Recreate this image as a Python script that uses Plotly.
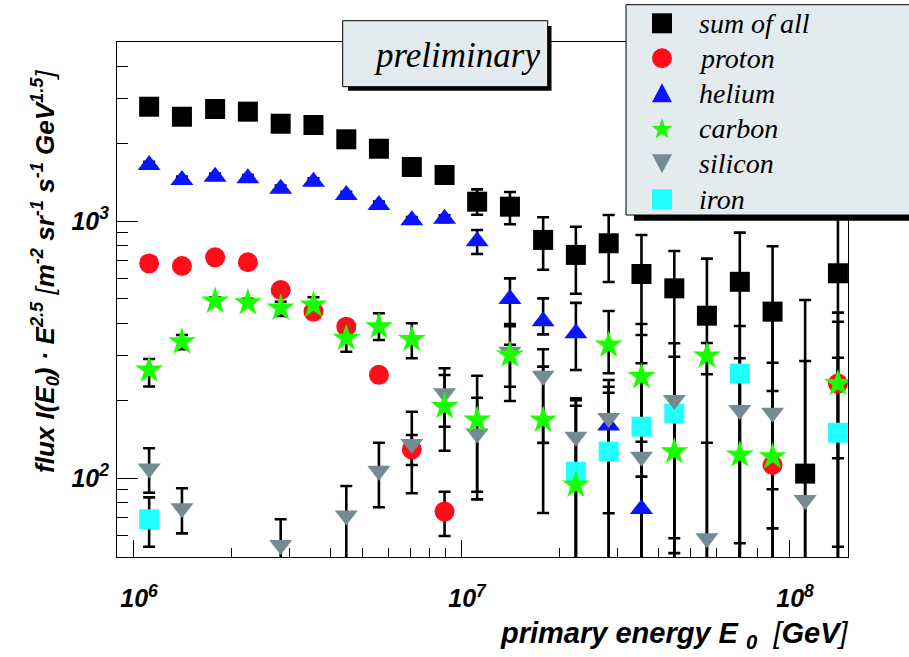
import math
import plotly.graph_objects as go

# ---------------- data ----------------
energy = [1.12e6, 1.41e6, 1.78e6, 2.24e6, 2.82e6, 3.55e6, 4.47e6, 5.62e6, 7.08e6, 8.91e6,
          1.12e7, 1.41e7, 1.78e7, 2.24e7, 2.82e7, 3.55e7, 4.47e7, 5.62e7, 7.08e7, 8.91e7,
          1.12e8, 1.41e8]
N = None

sum_all = [2784, 2545, 2728, 2663, 2391, 2363, 2079, 1911, 1622, 1510,
           1189, 1137, 844, 738, 819, 622, 547, 428, 580, 444, 104, 626]
sum_hi = [2890, 2640, 2830, 2760, 2480, 2450, 2160, 1990, 1690, 1580,
          1328, 1297, 1034, 950, 1055, 882, 764, 714, 901, 797, 493, 6000]
sum_lo = [2680, 2450, 2630, 2570, 2300, 2280, 2000, 1840, 1555, 1445,
          1058, 971, 646, 521, 579, 20, 20, 20, 20, 20, 20, 20]

proton = [684, 668, 722, 691, 539, 444, 388, 252, 129.3, 74,
          N, N, N, N, N, N, N, N, N, 112.3, N, 233]
proton_hi = [705, 690, 745, 712, 556, 458, 400, 262, 147, 88.4,
             N, N, N, N, N, N, N, N, N, 218, N, 440]
proton_lo = [663, 648, 700, 670, 522, 430, 376, 243, 112.3, 59.5,
             N, N, N, N, N, N, N, N, N, 63.7, N, 54]

helium = [1652, 1444, 1487, 1466, 1336, 1422, 1262, 1154, 1006, 1021,
          834, 497, 407, 366, 160, 75.8, N, N, N, N, N, N]
helium_hi = [1700, 1490, 1530, 1510, 1375, 1465, 1300, 1190, 1036, 1052,
             923, 598, 500, 480, 226.6, 101.2, N, N, N, N, N, N]
helium_lo = [1605, 1400, 1445, 1422, 1297, 1380, 1225, 1120, 976, 990,
             744, 397, 362, 263, 72.9, 20, N, N, N, N, N, N]

carbon = [263, 339, 488, 481, 458, 471, 350, 388, 346, 189.5,
          168, 301, 168, 93.9, 329, 248, 126.6, 298, 122.9, 121, N, 233]
carbon_hi = [290.4, 360.1, 505, 498, 485.3, 504.9, 387.9, 437.3, 399.9, 251.6,
             205.3, 330, 271.2, 191.1, 446.3, 360.1, 207.2, 335, 292.3, 281, N, 405.7]
carbon_lo = [227, 316.8, 470, 464, 426.9, 437.3, 310.1, 344.4, 292.3, 158.3,
             88.4, 199.3, 73.1, 20, 255.5, 138.4, 20, 253.2, 20, 90.4, N, 119.3]

silicon = [109, 76.2, N, N, 54.9, N, 71.4, 106.8, 135.6, 213.6,
           149, 310, 250, 144.8, 171, 121, 201, 58.3, 184, 179.5, 82.1, N]
silicon_hi = [130.5, 91.2, N, N, 69.1, N, 93.1, 137.2, 181.1, 267.3,
              250, 390, 316.8, 201, 214.7, 397.4, 296.5, 137.2, 390.5, 412, 285.3, N]
silicon_lo = [87.6, 60.9, N, N, 20, N, 20, 76.9, 87.2, 127.7,
              82.6, 226.6, 137, 20, 20, 20, 51, 20, 20, 20, 20, N]

iron = [69.1, N, N, N, N, N, N, N, N, N,
        N, N, N, 105.8, 126.6, 158.3, 178, N, 255, N, N, 150]
iron_hi = [84.1, N, N, N, N, N, N, N, N, N,
           N, N, N, 204.2, 240.6, 279.5, 334.3, N, 265, N, N, 293.8]
iron_lo = [54.0, N, N, N, N, N, N, N, N, N,
           N, N, N, 20, 20, 20, 58.3, N, 55.7, N, N, 20]

series_names = ["sum of all", "proton", "helium", "carbon", "silicon", "iron"]
x_tick_vals = [1e6, 1e7, 1e8]
x_tick_text = ["10<sup>6</sup>", "10<sup>7</sup>", "10<sup>8</sup>"]
y_tick_vals = [1e2, 1e3]
y_tick_text = ["10<sup>2</sup>", "10<sup>3</sup>"]

# ---------------- styling ----------------
W, H = 909, 657
L, R, T, B = 117, 61, 42, 100
PW, PH = W - L - R, H - T - B


def px(xp):
    return (xp - L) / PW


def py(yp):
    return (H - B - yp) / PH


def errs(vals, hi, lo):
    plus, minus = [], []
    for v, h, l in zip(vals, hi, lo):
        if v is None:
            plus.append(None)
            minus.append(None)
        else:
            plus.append(h - v)
            minus.append(v - l)
    return plus, minus


styles = {
    "sum of all": dict(symbol="square", color="black", size=20),
    "proton": dict(symbol="circle", color="#ff0d1a", size=20),
    "helium": dict(symbol="triangle-up", color="#0a14ff", size=20),
    "carbon": dict(symbol="star", color="#1aff00", size=21),
    "silicon": dict(symbol="triangle-down", color="#738c94", size=20),
    "iron": dict(symbol="square", color="#22ffff", size=20),
}
data = {
    "sum of all": (sum_all, sum_hi, sum_lo),
    "proton": (proton, proton_hi, proton_lo),
    "helium": (helium, helium_hi, helium_lo),
    "carbon": (carbon, carbon_hi, carbon_lo),
    "silicon": (silicon, silicon_hi, silicon_lo),
    "iron": (iron, iron_hi, iron_lo),
}

fig = go.Figure()

# error bars first (markers invisible), then the markers on top
for name in series_names:
    v, hi, lo = data[name]
    plus, minus = errs(v, hi, lo)
    fig.add_trace(go.Scatter(
        x=energy, y=v, mode="markers", showlegend=False, hoverinfo="skip",
        marker=dict(size=4, opacity=0),
        error_y=dict(type="data", array=plus, arrayminus=minus, symmetric=False,
                     color="black", thickness=2.6, width=6),
    ))

for name in ["sum of all", "proton", "helium", "iron", "silicon", "carbon"]:
    v = data[name][0]
    st = styles[name]
    fig.add_trace(go.Scatter(
        x=energy, y=v, mode="markers", name=name, showlegend=False,
        marker=dict(symbol=st["symbol"], color=st["color"], size=st["size"],
                    line=dict(width=0)),
    ))

axis_common = dict(
    type="log", showgrid=False, zeroline=False, showline=True, linecolor="black",
    linewidth=1, mirror=True, ticks="inside", tickcolor="black", tickwidth=1,
    tickfont=dict(family="Liberation Sans", size=25, color="black",
                  weight="bold", style="italic"),
)

fig.update_layout(
    width=W, height=H,
    margin=dict(l=L, r=R, t=T, b=B),
    paper_bgcolor="white", plot_bgcolor="white",
    xaxis=dict(axis_common, range=[5.95122, 8.17988], tickvals=x_tick_vals,
               ticktext=x_tick_text, ticklen=17, ticklabelstandoff=19,
               ticklabelshift=6,
               minor=dict(ticks="inside", ticklen=9, tickcolor="black", tickwidth=1,
                          tickvals=[2e6, 3e6, 4e6, 5e6, 6e6, 7e6, 8e6, 9e6,
                                    2e7, 3e7, 4e7, 5e7, 6e7, 7e7, 8e7, 9e7])),
    yaxis=dict(axis_common, range=[1.6926, 3.6965], tickvals=y_tick_vals,
               ticktext=y_tick_text, ticklen=21, ticklabelstandoff=2,
               minor=dict(ticks="inside", ticklen=11, tickcolor="black", tickwidth=1,
                          tickvals=[60, 70, 80, 90, 200, 300, 400, 500, 600, 700,
                                    800, 900, 2000, 3000, 4000])),
    showlegend=False,
)

shapes = []
annotations = []

# "preliminary" box with shadow
shapes.append(dict(type="rect", xref="paper", yref="paper", layer="above",
                   x0=px(348), x1=px(551.5), y0=py(26), y1=py(90.7),
                   fillcolor="black", line=dict(width=0)))
shapes.append(dict(type="rect", xref="paper", yref="paper", layer="above",
                   x0=px(342.7), x1=px(547.7), y0=py(20.7), y1=py(86.7),
                   fillcolor="#e4ebee", line=dict(color="black", width=1)))
annotations.append(dict(xref="paper", yref="paper", x=px(456), y=py(55),
                        xanchor="center", yanchor="middle",
                        text="preliminary", showarrow=False,
                        font=dict(family="Liberation Serif", size=35, color="black",
                                  style="italic")))

# legend box with shadow (extends past the right edge like the original)
shapes.append(dict(type="rect", xref="paper", yref="paper", layer="above",
                   x0=px(634), x1=px(930), y0=py(12), y1=py(220.7),
                   fillcolor="black", line=dict(width=0)))
shapes.append(dict(type="rect", xref="paper", yref="paper", layer="above",
                   x0=px(626), x1=px(925), y0=py(4.7), y1=py(215),
                   fillcolor="#e4ebee", line=dict(color="black", width=1)))

leg_y = [23.3, 58.3, 93.3, 128.3, 163.3, 199.3]
gx = 662


def path_from(points):
    return "M " + " L ".join(f"{px(a):.5f},{py(b):.5f}" for a, b in points) + " Z"


for name, cy in zip(series_names, leg_y):
    st = styles[name]
    c = st["color"]
    if st["symbol"] == "square":
        shapes.append(dict(type="rect", xref="paper", yref="paper", layer="above",
                           x0=px(gx - 10), x1=px(gx + 10), y0=py(cy - 10), y1=py(cy + 10),
                           fillcolor=c, line=dict(width=0)))
    elif st["symbol"] == "circle":
        shapes.append(dict(type="circle", xref="paper", yref="paper", layer="above",
                           x0=px(gx - 10), x1=px(gx + 10), y0=py(cy - 10), y1=py(cy + 10),
                           fillcolor=c, line=dict(width=0)))
    elif st["symbol"] == "triangle-up":
        pts = [(gx - 10, cy + 9), (gx + 10, cy + 9), (gx, cy - 10)]
        shapes.append(dict(type="path", xref="paper", yref="paper", layer="above",
                           path=path_from(pts), fillcolor=c, line=dict(width=0)))
    elif st["symbol"] == "triangle-down":
        pts = [(gx - 10, cy - 9), (gx + 10, cy - 9), (gx, cy + 10)]
        shapes.append(dict(type="path", xref="paper", yref="paper", layer="above",
                           path=path_from(pts), fillcolor=c, line=dict(width=0)))
    elif st["symbol"] == "star":
        pts = []
        for k in range(10):
            r = 11 if k % 2 == 0 else 4.4
            ang = -math.pi / 2 + k * math.pi / 5
            pts.append((gx + r * math.cos(ang), cy + 1 + r * math.sin(ang)))
        shapes.append(dict(type="path", xref="paper", yref="paper", layer="above",
                           path=path_from(pts), fillcolor=c, line=dict(width=0)))
    annotations.append(dict(xref="paper", yref="paper", x=px(697), y=py(cy),
                            xanchor="left", yanchor="middle", text=name,
                            showarrow=False,
                            font=dict(family="Liberation Serif", size=28,
                                      color="black", style="italic")))

# axis titles
annotations.append(dict(
    xref="paper", yref="paper", x=px(45), y=py(272), textangle=-90,
    xanchor="center", yanchor="middle", showarrow=False,
    text="flux I(E<sub>0</sub>) · E<sup>2.5</sup> <span style='font-weight:normal'>[</span>"
         "m<sup>-2</sup> sr<sup>-1</sup> s<sup>-1</sup> GeV<sup>1.5</sup>"
         "<span style='font-weight:normal'>]</span>",
    font=dict(family="Liberation Sans", size=26, color="black", weight="bold",
              style="italic")))
annotations.append(dict(
    xref="paper", yref="paper", x=px(851), y=py(635), xanchor="right",
    yanchor="middle", showarrow=False,
    text="primary energy E <sub>0</sub>  <span style='font-weight:normal'>[</span>GeV"
         "<span style='font-weight:normal'>]</span>",
    font=dict(family="Liberation Sans", size=29, color="black", weight="bold",
              style="italic")))

fig.update_layout(shapes=shapes, annotations=annotations)

fig.write_html("out.html", config={"displayModeBar": False},
               post_script="document.body.style.margin='0';document.body.style.padding='0';")
